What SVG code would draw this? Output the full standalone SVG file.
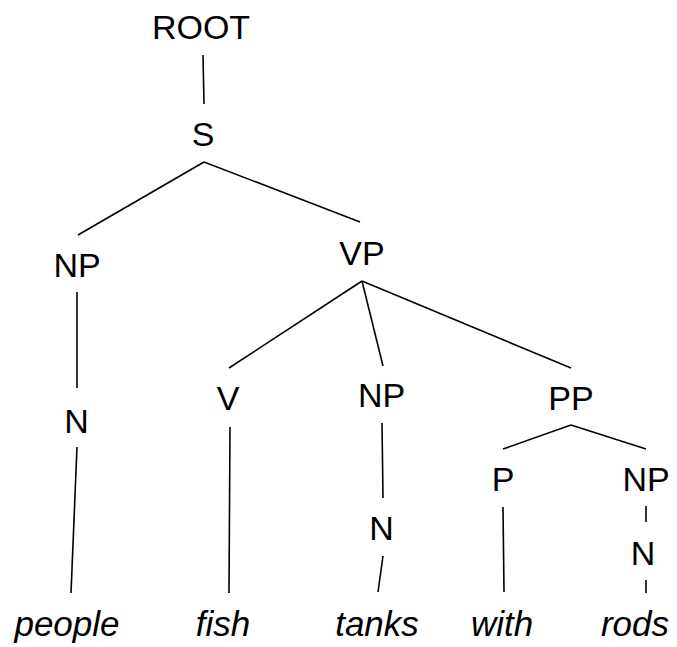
<svg xmlns="http://www.w3.org/2000/svg" width="677" height="647" viewBox="0 0 677 647">
<style>
text{font-family:"Liberation Sans",Arial,Helvetica,sans-serif;font-size:34px;fill:#000;text-anchor:middle}
.w{font-style:italic;font-size:35px}
#edges line{stroke:#000;stroke-width:1.6;fill:none}
</style>
<rect width="677" height="647" fill="#fff"/>
<g id="edges">
<line x1="203" y1="55" x2="204" y2="104"/>
<line x1="204" y1="162" x2="78" y2="235"/>
<line x1="204" y1="162" x2="360" y2="222"/>
<line x1="77" y1="292" x2="77" y2="388"/>
<line x1="77" y1="447" x2="71" y2="593"/>
<line x1="362" y1="281" x2="229" y2="368"/>
<line x1="362" y1="281" x2="383" y2="366"/>
<line x1="362" y1="281" x2="571" y2="368"/>
<line x1="230" y1="427" x2="229" y2="593"/>
<line x1="382" y1="423" x2="383" y2="498"/>
<line x1="383" y1="556" x2="378" y2="592"/>
<line x1="571" y1="425" x2="503" y2="449"/>
<line x1="571" y1="425" x2="646" y2="449"/>
<line x1="503" y1="507" x2="504" y2="592"/>
<line x1="646" y1="506" x2="646" y2="522"/>
<line x1="646" y1="580" x2="646" y2="593"/>
</g>
<g id="root"><text x="201" y="39">ROOT</text></g>
<g id="s"><text x="203" y="146">S</text></g>
<g id="np1"><text x="77" y="277">NP</text></g>
<g id="vp"><text x="362" y="265">VP</text></g>
<g id="n1"><text x="76.5" y="433">N</text></g>
<g id="v"><text x="228" y="410">V</text></g>
<g id="np2"><text x="381.5" y="407">NP</text></g>
<g id="pp"><text x="571" y="410">PP</text></g>
<g id="n2"><text x="381.5" y="540">N</text></g>
<g id="p"><text x="503" y="491">P</text></g>
<g id="np3"><text x="646" y="491">NP</text></g>
<g id="n3"><text x="643" y="565">N</text></g>
<g id="people"><text class="w" x="67" y="636">people</text></g>
<g id="fish"><text class="w" x="223" y="636">fish</text></g>
<g id="tanks"><text class="w" x="377" y="636">tanks</text></g>
<g id="with"><text class="w" x="502" y="636">with</text></g>
<g id="rods"><text class="w" x="635" y="636">rods</text></g>
</svg>
